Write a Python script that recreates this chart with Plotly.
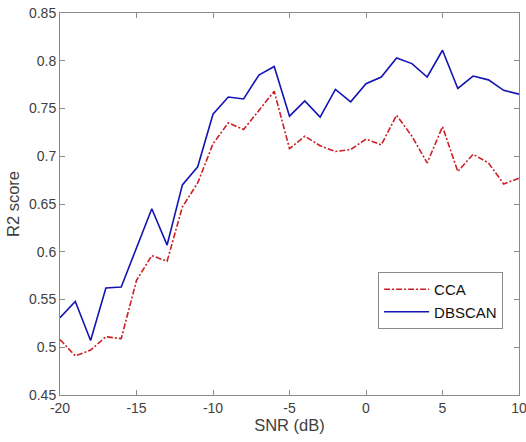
import plotly.graph_objects as go

snr = list(range(-20, 11))
cca = [0.508, 0.491, 0.497, 0.511, 0.509, 0.570, 0.596, 0.590, 0.647, 0.672,
       0.713, 0.735, 0.728, 0.748, 0.768, 0.708, 0.721, 0.711, 0.705, 0.707,
       0.718, 0.712, 0.743, 0.721, 0.693, 0.731, 0.684, 0.702, 0.693, 0.671, 0.677]
dbscan = [0.531, 0.548, 0.507, 0.562, 0.563, 0.604, 0.645, 0.607, 0.670, 0.689,
          0.744, 0.762, 0.760, 0.785, 0.794, 0.742, 0.758, 0.741, 0.770, 0.757,
          0.776, 0.783, 0.803, 0.797, 0.783, 0.811, 0.771, 0.784, 0.780, 0.769, 0.765]
y_ticks = [0.45, 0.5, 0.55, 0.6, 0.65, 0.7, 0.75, 0.8, 0.85]
y_labels = ["0.45", "0.5", "0.55", "0.6", "0.65", "0.7", "0.75", "0.8", "0.85"]
x_ticks = [-20, -15, -10, -5, 0, 5, 10]
x_labels = ["-20", "-15", "-10", "-5", "0", "5", "10"]

FONT = "Liberation Sans, Arial"

fig = go.Figure()
fig.add_trace(go.Scatter(x=snr, y=cca, mode="lines", name="CCA",
                         line=dict(color="#CC1F24", width=1.6, dash="6px,2px,2px,2px")))
fig.add_trace(go.Scatter(x=snr, y=dbscan, mode="lines", name="DBSCAN",
                         line=dict(color="#1414B4", width=1.6)))

axis_common = dict(showline=True, linecolor="#8a8a8a", linewidth=1, mirror="allticks",
                   ticks="inside", ticklen=5, tickcolor="#8a8a8a", showgrid=False,
                   zeroline=False, automargin=False, ticklabeloverflow="allow",
                   tickfont=dict(family=FONT, size=14, color="#404040"))

fig.update_xaxes(range=[-20, 10], tickvals=x_ticks, ticktext=x_labels,
                 title=dict(text="SNR (dB)", font=dict(family=FONT, size=16.5, color="#404040"), standoff=0),
                 **axis_common)
fig.update_yaxes(range=[0.45, 0.85], tickvals=y_ticks, ticktext=y_labels,
                 title=dict(text="R2 score", font=dict(family=FONT, size=16.5, color="#404040"), standoff=5),
                 **axis_common)

fig.update_layout(
    width=526, height=442,
    margin=dict(l=60, r=7, t=13, b=47),
    paper_bgcolor="white", plot_bgcolor="white",
    showlegend=True,
    legend=dict(x=0.693, y=0.322, xanchor="left", yanchor="top",
                bgcolor="white", bordercolor="#8a8a8a", borderwidth=1,
                font=dict(family=FONT, size=15, color="#111111"),
                itemwidth=45, tracegroupgap=0),
)

fig.write_html("out.html", config={"displayModeBar": False},
               post_script="document.body.style.margin='0';")
